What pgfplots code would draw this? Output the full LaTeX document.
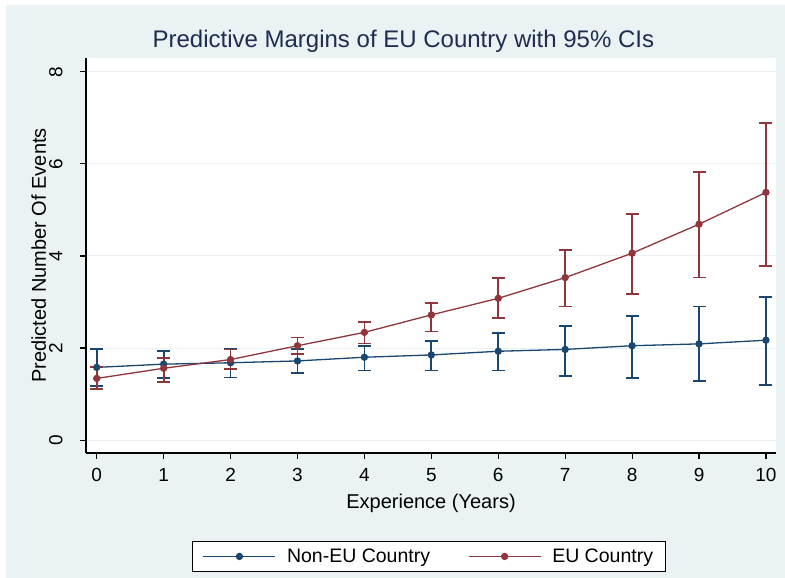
\documentclass[border=0pt]{standalone}
\usepackage{pgfplots}
\pgfplotsset{compat=1.18}
\usepackage{fontspec}
\setmainfont{Liberation Sans}

\definecolor{stbg}{RGB}{234,242,243}
\definecolor{stnavy}{RGB}{26,71,111}
\definecolor{stmaroon}{RGB}{144,53,59}
\definecolor{sttitle}{RGB}{30,45,80}
\definecolor{stgrid}{RGB}{234,242,243}

\begin{document}
\begin{tikzpicture}
 \fill[stbg] (-80pt,-125pt) rectangle (699pt,448pt);
 \path[use as bounding box] (-86pt,-125pt) rectangle (699pt,453pt);
 \begin{axis}[
 at={(0pt,0pt)}, anchor=south west,
 scale only axis,
 width=690pt, height=395pt,
 xmin=-0.16, xmax=10.15,
 ymin=-0.28, ymax=8.3,
 axis background/.style={fill=white},
 axis x line*=bottom, axis y line*=left,
 axis line style={black, line width=1.2pt, -},
 xtick={0,1,...,10},
 ytick={0,2,4,6,8},
 tick style={black, line width=1.2pt},
 tick align=outside,
 major tick length=6pt,
 ymajorgrids,
 grid style={stgrid, line width=1pt},
 yticklabel style={rotate=90, anchor=south, font=\fontsize{19}{20}\selectfont},
 xticklabel style={font=\fontsize{19}{20}\selectfont},
 xticklabel shift=6pt,
 yticklabel shift=14pt,
 /pgf/number format/assume math mode=true,
 title={Predictive Margins of EU Country with 95\% CIs},
 title style={font=\fontsize{24}{26}\selectfont, color=sttitle, at={(0.46,1)}, anchor=south, yshift=-4pt},
 xlabel={Experience (Years)},
 ylabel={Predicted Number Of Events},
 label style={font=\fontsize{20}{22}\selectfont},
 xlabel style={yshift=-5pt},
 ylabel style={yshift=-4pt},
 legend columns=2,
 legend style={at={(0.497,-0.3)}, anchor=south, draw=black, line width=1pt,
   fill=white, font=\fontsize{19.5}{21}\selectfont, inner xsep=10pt, inner ysep=5pt,
   /tikz/every odd column/.append style={column sep=9pt},
   /tikz/every even column/.append style={column sep=36pt}},
 legend image code/.code={
   \draw[#1, line width=1.2pt] (0pt,0pt) -- (72pt,0pt);
   \fill[#1] (36pt,0pt) circle (3pt);},
 error bars/y dir=both, error bars/y explicit,
 error bars/error mark options={rotate=90, mark size=6.5pt, line width=1.8pt},
 ]
 \addplot[color=stnavy, line width=1.3pt, mark=*, mark size=3pt,
   error bars/error bar style={line width=1.8pt, stnavy}]
 table[x=x, y=y, y error plus=ep, y error minus=em] {
 x y ep em
 0 1.58 0.40 0.40
 1 1.65 0.29 0.30
 2 1.68 0.30 0.32
 3 1.72 0.26 0.27
 4 1.80 0.25 0.29
 5 1.85 0.30 0.34
 6 1.93 0.39 0.42
 7 1.97 0.51 0.57
 8 2.05 0.65 0.70
 9 2.09 0.81 0.81
 10 2.17 0.93 0.97
 };
 \addlegendentry{Non-EU Country}
 \addplot[color=stmaroon, line width=1.3pt, mark=*, mark size=3pt,
   error bars/error bar style={line width=1.8pt, stmaroon}]
 table[x=x, y=y, y error plus=ep, y error minus=em] {
 x y ep em
 0 1.34 0.24 0.23
 1 1.56 0.22 0.29
 2 1.75 0.22 0.21
 3 2.05 0.18 0.18
 4 2.34 0.22 0.24
 5 2.72 0.25 0.36
 6 3.08 0.44 0.43
 7 3.53 0.60 0.63
 8 4.06 0.85 0.89
 9 4.69 1.13 1.16
 10 5.38 1.50 1.59
 };
 \addlegendentry{EU Country}
 \end{axis}
\end{tikzpicture}
\end{document}
